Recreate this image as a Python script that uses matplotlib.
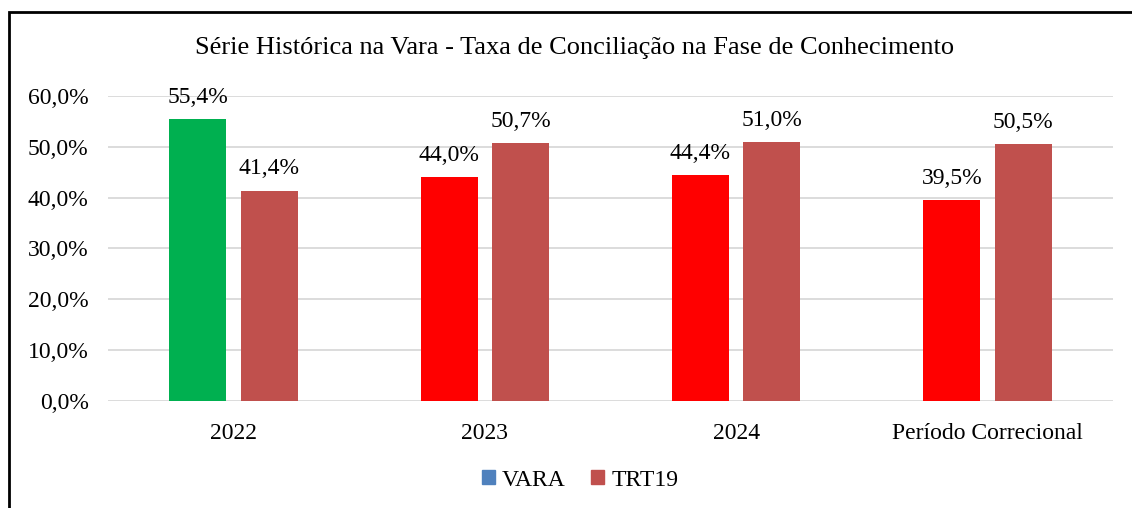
import matplotlib.pyplot as plt
import numpy as np
from matplotlib.patches import Rectangle, Patch

plt.rcParams['font.family'] = ['Liberation Serif', 'DejaVu Serif']

categories = ['2022', '2023', '2024', 'Período Correcional']
vara = [0.554, 0.440, 0.444, 0.395]
trt19 = [0.414, 0.507, 0.510, 0.505]
vara_colors = ['#00B050', '#FF0000', '#FF0000', '#FF0000']
trt_color = '#C0504D'
legend_vara = '#4F81BD'

fig = plt.figure(figsize=(11.32, 5.08), dpi=100)
ax = fig.add_axes([108 / 1132, 107 / 508, 1005 / 1132, 305 / 508])

x = np.arange(len(categories))
w = 0.227
off = 0.142
ax.bar(x - off, vara, w, color=vara_colors, zorder=3)
ax.bar(x + off, trt19, w, color=trt_color, zorder=3)

for i in range(len(categories)):
    ax.text(x[i] - off, vara[i] + 0.022, f'{vara[i] * 100:.1f}%'.replace('.', ','),
            ha='center', va='bottom', fontsize=17)
    ax.text(x[i] + off, trt19[i] + 0.022, f'{trt19[i] * 100:.1f}%'.replace('.', ','),
            ha='center', va='bottom', fontsize=17)

ax.set_xlim(-0.5, len(categories) - 0.5)
ax.set_ylim(0, 0.6)
yt = np.arange(0, 0.61, 0.1)
ax.set_yticks(yt)
ax.set_yticklabels([f'{v * 100:.1f}%'.replace('.', ',') for v in yt], fontsize=17)
ax.set_xticks(x)
ax.set_xticklabels(categories, fontsize=17)
ax.tick_params(axis='x', length=0, pad=16)
ax.tick_params(axis='y', length=0, pad=14)
ax.grid(axis='y', color='#D9D9D9', linewidth=1.3, zorder=0)
for s in ax.spines.values():
    s.set_visible(False)

fig.text(575 / 1132, 1 - 48 / 508, 'Série Histórica na Vara - Taxa de Conciliação na Fase de Conhecimento',
         ha='center', va='center', fontsize=19)

handles = [Patch(color=legend_vara, label='VARA'), Patch(color=trt_color, label='TRT19')]
fig.legend(handles=handles, loc='center', bbox_to_anchor=(580 / 1132, 1 - 480 / 508),
           ncol=2, frameon=False, fontsize=17, handlelength=0.55, handleheight=0.55,
           columnspacing=1.1, handletextpad=0.3)

fig.patches.append(Rectangle((9 / 1132, -0.1), 1.2, 1 - 12 / 508 + 0.1,
                             transform=fig.transFigure, fill=False,
                             edgecolor='black', linewidth=2))

fig.savefig('out.png', dpi=100)
